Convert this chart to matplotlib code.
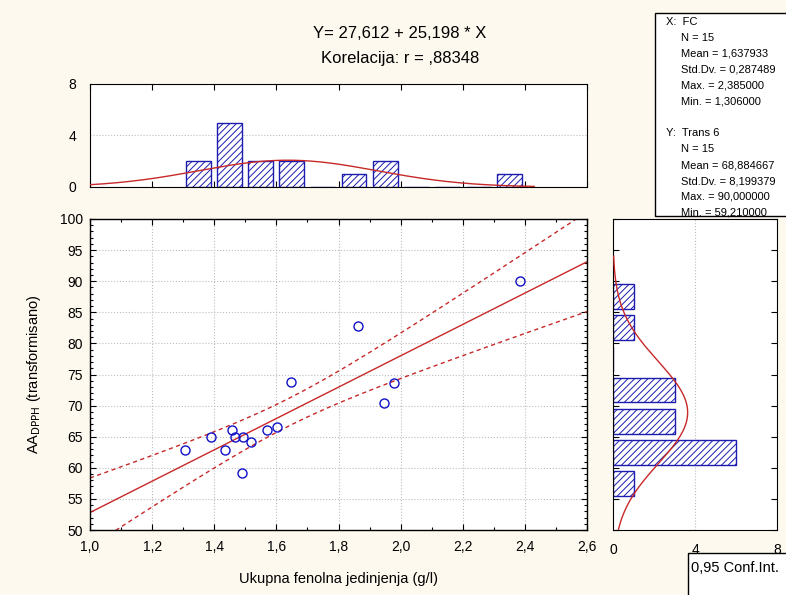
import numpy as np
import matplotlib
matplotlib.use("Agg")
import matplotlib.pyplot as plt
from matplotlib.patches import Rectangle
from matplotlib.ticker import MultipleLocator, FuncFormatter
from matplotlib import font_manager

# ---- data -------------------------------------------------------------
fc = [1.307, 1.388, 1.436, 1.456, 1.467, 1.494, 1.490, 1.519,
      1.570, 1.602, 1.648, 1.864, 1.946, 1.979, 2.385]
aa = [62.9, 64.9, 62.9, 66.15, 64.9, 64.9, 59.21, 64.1,
      66.15, 66.5, 73.87, 82.78, 70.38, 73.66, 90.0]

intercept, slope = 27.612, 25.198
corr_label = ",88348"

# histogram of X (bin centres, counts)
x_bin_centers = [1.35, 1.45, 1.55, 1.65, 1.75, 1.85, 1.95, 2.05, 2.15, 2.25, 2.35]
x_bin_counts = [2, 5, 2, 2, 0, 1, 2, 0, 0, 0, 1]
x_bin_width = 0.1

# histogram of Y
y_bin_centers = [57.5, 62.5, 67.5, 72.5, 77.5, 82.5, 87.5]
y_bin_counts = [1, 6, 3, 3, 0, 1, 1]
y_bin_width = 5.0

stats_x = ["X:  FC", "N = 15", "Mean = 1,637933", "Std.Dv. = 0,287489",
           "Max. = 2,385000", "Min. = 1,306000"]
stats_y = ["Y:  Trans 6", "N = 15", "Mean = 68,884667", "Std.Dv. = 8,199379",
           "Max. = 90,000000", "Min. = 59,210000"]

# ---- style ------------------------------------------------------------
available = {f.name for f in font_manager.fontManager.ttflist}
narrow = [f for f in ["Liberation Sans Narrow", "Liberation Sans", "DejaVu Sans"] if f in available]
plt.rcParams["font.family"] = narrow
plt.rcParams["hatch.linewidth"] = 0.7

BG = "#FDF9EE"
RED = "#C82828"
BLUE = "#1C1CB0"
GRID = "#BDBDBD"

W, H = 786, 595
fig = plt.figure(figsize=(W / 100, H / 100), dpi=100, facecolor=BG)


def rect(l, t, r, b):
    return [l / W, 1 - b / H, (r - l) / W, (b - t) / H]


def comma(v, _pos=None, fmt="{:.1f}"):
    return fmt.format(v).replace(".", ",")


x = np.array(fc)
y = np.array(aa)
n = len(x)
xm, ym = x.mean(), y.mean()
sxx = ((x - xm) ** 2).sum()
resid = y - (intercept + slope * x)
s = np.sqrt((resid ** 2).sum() / (n - 2))
t_crit = 2.1604  # Student t, 0.975, df = 13

# ---- main scatter -----------------------------------------------------
ax = fig.add_axes(rect(90, 219, 587, 530))
ax.set_xlim(1.0, 2.6)
ax.set_ylim(50, 100)
ax.xaxis.set_major_locator(MultipleLocator(0.2))
ax.xaxis.set_minor_locator(MultipleLocator(0.1))
ax.yaxis.set_major_locator(MultipleLocator(5))
ax.yaxis.set_minor_locator(MultipleLocator(1))
ax.xaxis.set_major_formatter(FuncFormatter(comma))
ax.yaxis.set_major_formatter(FuncFormatter(lambda v, p: f"{v:.0f}"))
ax.tick_params(which="both", direction="in", top=True, right=True, labelsize=10)
ax.tick_params(axis="x", pad=7)
ax.tick_params(axis="y", pad=5)
ax.tick_params(which="major", length=4, width=0.8)
ax.tick_params(which="minor", length=2, width=0.8)
ax.grid(True, which="major", color=GRID, linestyle=":", linewidth=0.8)
ax.set_axisbelow(True)

xx = np.linspace(1.0, 2.6, 300)
yy = intercept + slope * xx
half = t_crit * s * np.sqrt(1 / n + (xx - xm) ** 2 / sxx)
ax.plot(xx, yy, color=RED, lw=1.0)
ax.plot(xx, yy + half, color=RED, lw=1.0, dashes=(3, 2.5))
ax.plot(xx, yy - half, color=RED, lw=1.0, dashes=(3, 2.5))
ax.plot(x, y, "o", mfc="none", mec="#1010C8", ms=6.5, mew=1.0, zorder=5)

ax.set_xlabel("Ukupna fenolna jedinjenja (g/l)", fontsize=10.5, labelpad=13)
ax.set_ylabel(r"AA$_{\mathrm{DPPH}}$ (transformisano)", fontsize=10.5, labelpad=12)
for sp in ax.spines.values():
    sp.set_linewidth(1.0)

# ---- top histogram (X) -----------------------------------------------
axt = fig.add_axes(rect(90, 84, 587, 187))
axt.set_xlim(1.0, 2.6)
axt.set_ylim(0, 8)
axt.bar(x_bin_centers, x_bin_counts, width=x_bin_width * 0.8, facecolor="white",
        edgecolor=BLUE, hatch="/////", linewidth=1.0, zorder=2)
sx = x.std(ddof=1)
xc = np.linspace(1.0, 2.43, 200)
axt.plot(xc, n * x_bin_width / (sx * np.sqrt(2 * np.pi))
         * np.exp(-0.5 * ((xc - xm) / sx) ** 2), color=RED, lw=1.0, zorder=3)
axt.set_yticks([0, 4, 8])
axt.set_xticks(np.arange(1.0, 2.61, 0.2))
axt.tick_params(axis="x", direction="in", top=True, labelbottom=False, length=4)
axt.tick_params(axis="y", direction="in", length=0, labelsize=10, pad=10)
axt.grid(True, axis="y", color=GRID, linestyle=":", linewidth=0.8)
axt.set_axisbelow(True)

# ---- right histogram (Y) ---------------------------------------------
axr = fig.add_axes(rect(613, 219, 777, 530))
axr.set_ylim(50, 100)
axr.set_xlim(0, 8)
axr.barh(y_bin_centers, y_bin_counts, height=y_bin_width * 0.8, facecolor="white",
         edgecolor=BLUE, hatch="/////", linewidth=1.0, zorder=2)
sy = y.std(ddof=1)
yc = np.linspace(50, 94, 200)
axr.plot(n * y_bin_width / (sy * np.sqrt(2 * np.pi))
         * np.exp(-0.5 * ((yc - ym) / sy) ** 2), yc, color=RED, lw=1.0, zorder=3)
axr.set_xticks([0, 4, 8])
axr.set_yticks(np.arange(50, 101, 5))
axr.tick_params(axis="y", direction="in", right=True, labelleft=False, length=4)
axr.tick_params(axis="x", direction="in", length=0, labelsize=10, pad=9)
axr.grid(True, axis="x", color=GRID, linestyle=":", linewidth=0.8)
axr.set_axisbelow(True)

# ---- titles -----------------------------------------------------------
fig.text(400 / W, 1 - 33 / H, f"Y= {comma(intercept, fmt='{:.3f}')} + {comma(slope, fmt='{:.3f}')} * X",
         ha="center", va="center", fontsize=12)
fig.text(400 / W, 1 - 58 / H, f"Korelacija: r = {corr_label}",
         ha="center", va="center", fontsize=12)

# ---- statistics box ---------------------------------------------------
box_font = ["Liberation Sans", "DejaVu Sans"]
fig.patches.append(Rectangle((655 / W, 1 - 216 / H), 200 / W, (216 - 13) / H,
                             transform=fig.transFigure, facecolor="white",
                             edgecolor="black", linewidth=1.0, zorder=5))
for i, txt in enumerate(stats_x + [""] + stats_y):
    if not txt:
        continue
    xpos = 666 if i in (0, 7) else 681
    fig.text(xpos / W, 1 - (22 + i * 15.9) / H, txt, ha="left", va="center",
             fontsize=8, family=box_font, zorder=6)

# ---- legend box -------------------------------------------------------
fig.patches.append(Rectangle((688 / W, 1 - 640 / H), 200 / W, (640 - 553) / H,
                             transform=fig.transFigure, facecolor="white",
                             edgecolor="black", linewidth=1.0, zorder=5))
fig.text(691 / W, 1 - 568 / H, "0,95 Conf.Int.", ha="left", va="center",
         fontsize=10.5, family=box_font, zorder=6)

fig.savefig("out.png", dpi=100, facecolor=BG)
